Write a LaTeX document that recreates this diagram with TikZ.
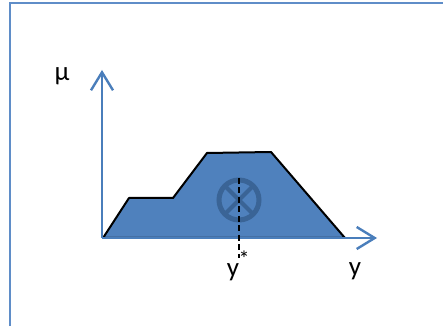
\documentclass[tikz,border=0pt]{standalone}
\usepackage{fontspec}
\setmainfont{Carlito}
\usetikzlibrary{arrows.meta,calc}
\definecolor{frameblue}{HTML}{5F8DC8}
\definecolor{axisblue}{HTML}{4A7EBB}
\definecolor{fillblue}{HTML}{4F81BD}
\definecolor{markblue}{HTML}{3A6496}
\tikzset{
  axisline/.style={draw=axisblue, line width=2.4pt, -{Straight Barb[length=18pt,width=22pt]}},
  fuzzyset/.style={fill=fillblue, draw=black, line width=2pt, line join=round},
  lbl/.style={font=\fontsize{27}{30}\selectfont, inner sep=0pt, anchor=base},
}
\begin{document}
\begin{tikzpicture}[x=1pt,y=1pt]
\useasboundingbox (0,0) rectangle (443,326);
\fill[white] (0,0) rectangle (443,326);
% frame
\draw[frameblue, line width=2pt] (9.5,0) -- (9.5,322.5) -- (443,322.5);
% polygon
\coordinate (A) at (103,88);
\coordinate (B) at (129,128);
\coordinate (C) at (173,128);
\coordinate (D) at (207,173);
\coordinate (E) at (271,174);
\coordinate (F) at (345,88);
\path[fuzzyset] (A) -- (B) -- (C) -- (D) -- (E) -- (F) -- cycle;
% axes
\coordinate (O) at (102,88);
\coordinate (Ytip) at (102,256);
\coordinate (Xtip) at (377,88);
\draw[axisline] (O) -- (Ytip);
\draw[axisline] (O) -- (Xtip);
% centroid marker
\coordinate (G) at (239,126);
\draw[markblue, line width=5pt] (G) circle (20);
\draw[markblue, line width=4pt] ($(G)+(-14,14)$) -- ($(G)+(14,-14)$);
\draw[markblue, line width=4pt] ($(G)+(-14,-14)$) -- ($(G)+(14,14)$);
% dashed line
\coordinate (Dt) at (239,148);
\coordinate (Db) at (239,68);
\draw[black, line width=1.6pt, dash pattern=on 6pt off 3.5pt] (Dt) -- (Db);
% labels
\node[lbl] (mu) at (62,245) {μ};
\node[lbl] (ylab) at (355,51) {y};
\node[lbl] (ystar) at (233,50) {y};
\node[font=\fontsize{22}{24}\selectfont, inner sep=0pt] (star) at (244,67) {*};
\end{tikzpicture}
\end{document}
